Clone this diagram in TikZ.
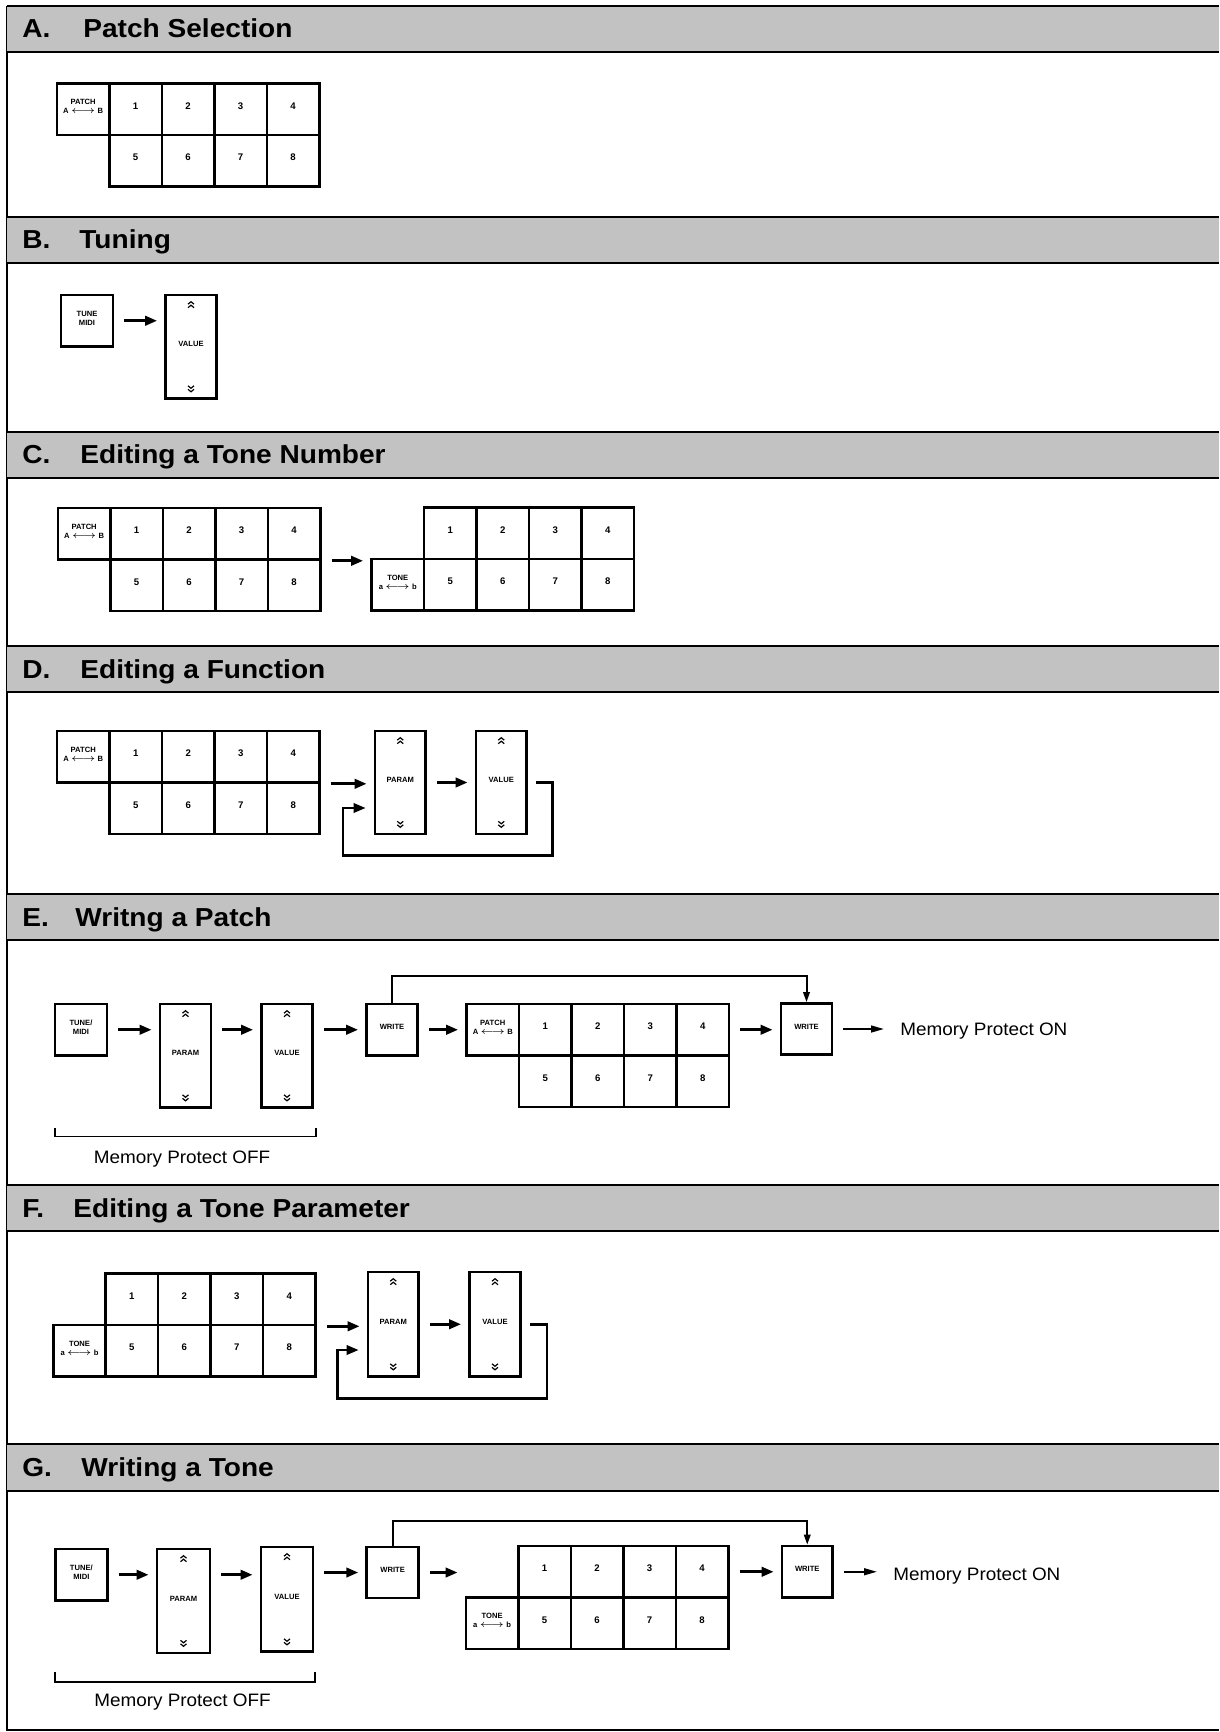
\documentclass[tikz,border=0pt]{standalone}
\usepackage{fontspec}
\setmainfont{Liberation Sans}
\newfontfamily\headfont[FakeStretch=1.08]{Liberation Sans}
\newfontfamily\memfont[FakeStretch=1.05]{Liberation Sans}
\usetikzlibrary{arrows.meta,fit}

\newcommand\keygrid[3]{%
  \foreach \i in {1,...,4} {
    \node[numbox, fit={({#2+(\i-1)*52.5},#3) ({#2+\i*52.5},{#3+51.5})}] (#1-\i) {\i};
    \pgfmathtruncatemacro\j{\i+4}
    \node[numbox, fit={({#2+(\i-1)*52.5},{#3+51.5}) ({#2+\i*52.5},{#3+103})}] (#1-\j) {\j};
  }
}
\newcommand\chevs[1]{%
  \draw[chev, shift={(#1.north)}] (-3,10.5) -- (0,8) -- (3,10.5) (-3,14) -- (0,11.5) -- (3,14);
  \draw[chev, shift={(#1.south)}] (-3,-14) -- (0,-11.5) -- (3,-14) (-3,-10.5) -- (0,-8) -- (3,-10.5);
}
\newcommand\secthead[6]{%
  \fill[band] (7,#2) rectangle (1219,#3);
  \draw[bandline] (7,#2) -- (1219,#2) (7,#3) -- (1219,#3);
  \node[head] (#1-l) at (22,{(#2+#3)/2+9}) {#4};
  \node[head] (#1-t) at (#6,{(#2+#3)/2+9}) {#5};
}

\begin{document}
\begin{tikzpicture}[x=0.5pt,y=-0.5pt,
  kbox/.style={draw, line width=1.3pt, inner sep=0pt, align=center,
    font=\fontsize{3.8pt}{4.4pt}\selectfont\bfseries},
  numbox/.style={kbox, font=\fontsize{4.8pt}{5.5pt}\selectfont\bfseries},
  arr/.style={line width=1.5pt, -{Triangle[length=6pt,width=4.6pt]},
    shorten <=5pt, shorten >=3.5pt},
  thinarr/.style={line width=1pt, -{Triangle[length=6.5pt,width=3.4pt]},
    shorten <=5pt, shorten >=8pt},
  loopln/.style={line width=1pt, -{Triangle[length=5pt,width=3.2pt]}},
  fb/.style={line width=1.3pt, -{Triangle[length=6pt,width=4.6pt]}, shorten >=4pt},
  brk/.style={line width=0.9pt},
  band/.style={black!24},
  bandline/.style={line width=1.1pt},
  chev/.style={line width=0.6pt},
  head/.style={anchor=base west, inner sep=0pt,
    font=\headfont\bfseries\fontsize{13pt}{15pt}\selectfont},
  mem/.style={inner sep=0pt, font=\memfont\fontsize{9pt}{11pt}\selectfont}
]
\useasboundingbox (0,0) rectangle (1219,1732);

% frame
\draw[line width=1.1pt] (7,6) -- (7,1730) -- (1219,1730);

% ---------------- A
\secthead{ha}{6}{52}{A.}{Patch Selection}{83}
\node[kbox, fit={(57,83.5) (109.3,135)}] (a-p) {PATCH\\A $\longleftrightarrow$ B};
\keygrid{a}{109.3}{83.5}

% ---------------- B
\secthead{hb}{217}{263}{B.}{Tuning}{79}
\node[kbox, fit={(61,295) (113,346.5)}] (b-tune) {TUNE\\MIDI};
\node[kbox, fit={(165.5,295) (216.5,398.5)}] (b-val) {VALUE};
\chevs{b-val}
\draw[arr] (b-tune.east) -- (b-tune.east -| b-val.west);

% ---------------- C
\secthead{hc}{432}{478}{C.}{Editing a Tone Number}{80}
\node[kbox, fit={(58,508) (110.4,559.5)}] (c-p) {PATCH\\A $\longleftrightarrow$ B};
\keygrid{c}{110.4}{508}
\keygrid{cc}{424}{507.5}
\node[kbox, fit={(371.5,559) (424,610.5)}] (cc-t) {TONE\\a $\longleftrightarrow$ b};
\draw[arr] (c-4.south east) -- (c-4.south east -| cc-t.west);

% ---------------- D
\secthead{hd}{646}{692}{D.}{Editing a Function}{80}
\node[kbox, fit={(57,731) (109.5,782.5)}] (d-p) {PATCH\\A $\longleftrightarrow$ B};
\keygrid{d}{109.5}{731}
\node[kbox, fit={(375,731) (425.5,834)}] (d-par) {PARAM};
\node[kbox, fit={(476,731) (526.5,834)}] (d-val) {VALUE};
\chevs{d-par}
\chevs{d-val}
\draw[arr] (d-4.south east) -- (d-4.south east -| d-par.west);
\draw[arr] (d-par.east) -- (d-val.west);
\coordinate (d-f1) at (552.5,855.5);
\coordinate (d-f2) at (343,808);
\draw[fb] ([xshift=4pt]d-val.east) -| (d-f1) -| (d-f2) -- (d-f2 -| d-par.west);

% ---------------- E
\secthead{he}{894}{940}{E.}{Writng a Patch}{75}
\node[kbox, fit={(55,1004) (107,1055.5)}] (e-tune) {TUNE/\\MIDI};
\node[kbox, fit={(160,1004) (211,1107.5)}] (e-par) {PARAM};
\node[kbox, fit={(261.5,1004) (312.5,1107.5)}] (e-val) {VALUE};
\chevs{e-par}
\chevs{e-val}
\node[kbox, fit={(366.5,1004) (417.5,1055.5)}] (e-w1) {WRITE};
\node[kbox, fit={(466.5,1004) (519,1055.5)}] (e-p) {PATCH\\A $\longleftrightarrow$ B};
\keygrid{e}{519}{1004}
\node[kbox, fit={(781,1003.5) (832,1054.5)}] (e-w2) {WRITE};
\node[mem, anchor=base west] (e-on) at (900,1035) {Memory Protect ON};
\draw[arr] (e-tune.east) -- (e-tune.east -| e-par.west);
\draw[arr] (e-tune.east -| e-par.east) -- (e-tune.east -| e-val.west);
\draw[arr] (e-tune.east -| e-val.east) -- (e-w1.west);
\draw[arr] (e-w1.east) -- (e-p.west);
\draw[arr] (e-4.east) -- (e-4.east -| e-w2.west);
\draw[thinarr] (e-w2.east) -- (e-w2.east -| e-on.west);
\coordinate (e-top) at (600,976);
\draw[loopln] (e-w1.north) |- (e-top) -| (e-w2.north);
\coordinate (e-b1) at (55,1128);
\coordinate (e-b2) at (316,1128);
\draw[brk] (e-b1) -- ++(0,8.5) -| (e-b2);
\node[mem, anchor=base] (e-off) at (182,1163) {Memory Protect OFF};

% ---------------- F
\secthead{hf}{1185}{1231}{F.}{Editing a Tone Parameter}{73}
\keygrid{f}{105.5}{1273.5}
\node[kbox, fit={(53.5,1325) (105.5,1376.5)}] (f-t) {TONE\\a $\longleftrightarrow$ b};
\node[kbox, fit={(368,1272) (418.5,1376.5)}] (f-par) {PARAM};
\node[kbox, fit={(469.5,1272) (520.5,1376.5)}] (f-val) {VALUE};
\chevs{f-par}
\chevs{f-val}
\draw[arr] (f-4.south east) -- (f-4.south east -| f-par.west);
\draw[arr] (f-par.east) -- (f-val.west);
\coordinate (f-f1) at (547,1398.5);
\coordinate (f-f2) at (337.5,1350);
\draw[fb] ([xshift=4pt]f-val.east) -| (f-f1) -| (f-f2) -- (f-f2 -| f-par.west);

% ---------------- G
\secthead{hg}{1444}{1491}{G.}{Writing a Tone}{81}
\node[kbox, fit={(55.3,1549) (107.4,1600.5)}] (g-tune) {TUNE/\\MIDI};
\node[kbox, fit={(157,1549) (210,1653)}] (g-par) {PARAM};
\node[kbox, fit={(261,1547) (313,1651.5)}] (g-val) {VALUE};
\chevs{g-par}
\chevs{g-val}
\node[kbox, fit={(366.7,1547) (418.5,1598)}] (g-w1) {WRITE};
\keygrid{g}{518.3}{1546}
\node[kbox, fit={(466,1597.5) (518.3,1649)}] (g-t) {TONE\\a $\longleftrightarrow$ b};
\node[kbox, fit={(782,1546) (832.5,1597.5)}] (g-w2) {WRITE};
\node[mem, anchor=base west] (g-on) at (893,1580) {Memory Protect ON};
\draw[arr] (g-tune.east) -- (g-tune.east -| g-par.west);
\draw[arr] (g-tune.east -| g-par.east) -- (g-tune.east -| g-val.west);
\draw[arr] (g-w1.west -| g-val.east) -- (g-w1.west);
\draw[arr] (g-w1.east) -- (g-w1.east -| g-t.west);
\draw[arr] (g-4.east) -- (g-4.east -| g-w2.west);
\draw[thinarr] (g-w2.east) -- (g-w2.east -| g-on.west);
\coordinate (g-top) at (600,1521);
\draw[loopln] (g-w1.north) |- (g-top) -| (g-w2.north);
\coordinate (g-b1) at (55.3,1672);
\coordinate (g-b2) at (314.6,1672);
\draw[brk] (g-b1) -- ++(0,9.7) -| (g-b2);
\node[mem, anchor=base] (g-off) at (182.5,1706) {Memory Protect OFF};
\end{tikzpicture}
\end{document}
